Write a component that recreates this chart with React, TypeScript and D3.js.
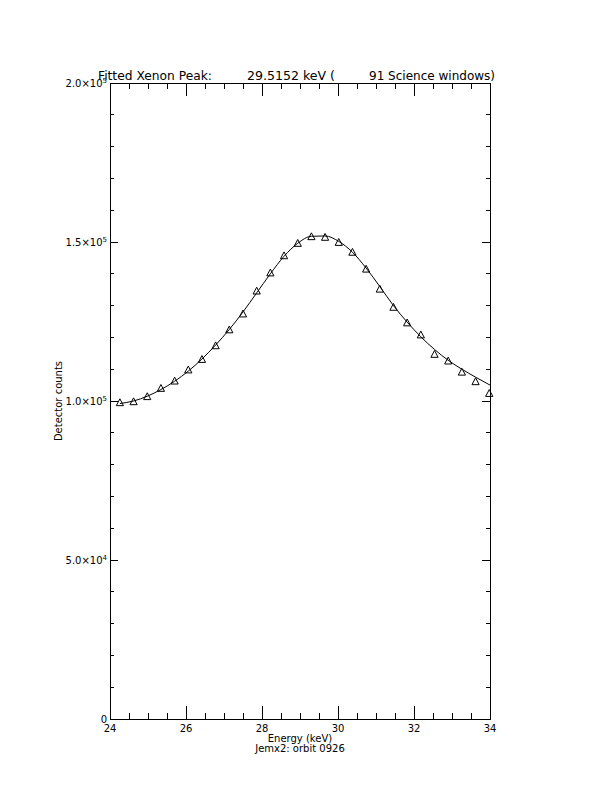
import React from "react";
import * as d3 from "d3";

const energies = [24.26, 24.62, 24.98, 25.34, 25.70, 26.06, 26.42, 26.78, 27.14, 27.50, 27.86, 28.22, 28.58, 28.94, 29.30, 29.66, 30.02, 30.38, 30.74, 31.10, 31.46, 31.82, 32.18, 32.54, 32.90, 33.26, 33.62, 33.98];
const counts = [99500, 99800, 101400, 104000, 106300, 109800, 113100, 117400, 122400, 127400, 134600, 140300, 145700, 149600, 151700, 151500, 149900, 146800, 141500, 135200, 129500, 124600, 120800, 114700, 112600, 109100, 106100, 102400];

const fitEnergies = [24.26, 24.62, 24.98, 25.34, 25.70, 26.06, 26.42, 26.78, 27.14, 27.50, 27.86, 28.22, 28.58, 28.94, 29.30, 29.66, 30.02, 30.38, 30.74, 31.10, 31.46, 31.82, 32.18, 32.54, 32.90, 33.26, 33.62, 34.00];
const fitCounts = [99200, 100000, 101500, 103600, 106200, 109400, 113200, 117600, 122500, 128000, 134000, 140000, 145500, 149600, 151800, 151900, 150200, 146800, 141800, 136000, 130000, 124800, 120200, 116200, 112800, 110000, 107500, 105000];

const xMajorTicks = [24, 26, 28, 30, 32, 34];
const xTickLabels = ["24", "26", "28", "30", "32", "34"];
const yMajorTicks = [0, 50000, 100000, 150000, 200000];
const yTickMantissa = ["0", "5.0", "1.0", "1.5", "2.0"];
const yTickExponent = ["", "4", "5", "5", "5"];

const titleParts = ["Fitted Xenon Peak:", "29.5152 keV (", "91 Science windows)"];
const xTitle = "Energy (keV)";
const subTitle = "Jemx2: orbit 0926";
const yTitle = "Detector counts";

export default function App() {
  const W = 612, H = 792;
  const L = 110, R = 490, T = 83, B = 719;
  const x = d3.scaleLinear().domain([24, 34]).range([L, R]);
  const y = d3.scaleLinear().domain([0, 200000]).range([B, T]);
  const font = "'DejaVu Sans', 'Liberation Sans', sans-serif";

  const xMinor = d3.range(24, 34.001, 0.5).filter(v => !xMajorTicks.some(m => Math.abs(m - v) < 1e-6));
  const yMinor = d3.range(0, 200001, 10000).filter(v => !yMajorTicks.some(m => Math.abs(m - v) < 1e-6));

  const xMajLen = 12.7, xMinLen = 6.4, yMajLen = 7.6, yMinLen = 3.8;

  const line = d3.line<[number, number]>().x(d => x(d[0])).y(d => y(d[1])).curve(d3.curveMonotoneX);
  const fitPath = line(fitEnergies.map((e, i) => [e, fitCounts[i]] as [number, number])) || "";

  const tri = (cx: number, cy: number) => {
    const s = 3.6;
    return `M${cx - s},${cy + s * 0.85}L${cx + s},${cy + s * 0.85}L${cx},${cy - s * 1.05}Z`;
  };

  const titleX = [[98, 114], [247, 88], [369, 126]];

  return (
    <svg width={W} height={H} style={{ position: "absolute", left: 0, top: 0, background: "#fff" }}>
      <rect x={0} y={0} width={W} height={H} fill="#fff" />
      <g fill="#000" fontFamily={font}>
        {titleParts.map((t, i) => (
          <text key={i} x={titleX[i][0]} y={80} fontSize={12.5} textLength={titleX[i][1]} lengthAdjust="spacingAndGlyphs">{t}</text>
        ))}
      </g>
      <g stroke="#000" strokeWidth={1} shapeRendering="crispEdges" fill="none">
        <rect x={L} y={T} width={R - L} height={B - T} />
        {xMajorTicks.map((v, i) => (
          <g key={"xm" + i}>
            <line x1={x(v)} x2={x(v)} y1={B} y2={B - xMajLen} />
            <line x1={x(v)} x2={x(v)} y1={T} y2={T + xMajLen} />
          </g>
        ))}
        {xMinor.map((v, i) => (
          <g key={"xn" + i}>
            <line x1={x(v)} x2={x(v)} y1={B} y2={B - xMinLen} />
            <line x1={x(v)} x2={x(v)} y1={T} y2={T + xMinLen} />
          </g>
        ))}
        {yMajorTicks.map((v, i) => (
          <g key={"ym" + i}>
            <line x1={L} x2={L + yMajLen} y1={y(v)} y2={y(v)} />
            <line x1={R} x2={R - yMajLen} y1={y(v)} y2={y(v)} />
          </g>
        ))}
        {yMinor.map((v, i) => (
          <g key={"yn" + i}>
            <line x1={L} x2={L + yMinLen} y1={y(v)} y2={y(v)} />
            <line x1={R} x2={R - yMinLen} y1={y(v)} y2={y(v)} />
          </g>
        ))}
      </g>
      <path d={fitPath} fill="none" stroke="#000" strokeWidth={1} />
      <g fill="none" stroke="#000" strokeWidth={1}>
        {energies.map((e, i) => (
          <path key={i} d={tri(x(e), y(counts[i]))} />
        ))}
      </g>
      <g fill="#000" fontFamily={font} fontSize={10}>
        {xMajorTicks.map((v, i) => (
          <text key={i} x={x(v)} y={732} textAnchor="middle">{xTickLabels[i]}</text>
        ))}
        {yMajorTicks.map((v, i) => (
          <text key={i} x={L - 3} y={y(v) + 3.5} textAnchor="end">
            {yTickMantissa[i]}
            {yTickExponent[i] ? <>{"×10"}<tspan fontSize={7} dy={-3.5}>{yTickExponent[i]}</tspan></> : null}
          </text>
        ))}
        <text x={300} y={742} textAnchor="middle">{xTitle}</text>
        <text x={300} y={752} textAnchor="middle">{subTitle}</text>
        <text transform={`translate(62,401) rotate(-90)`} textAnchor="middle">{yTitle}</text>
      </g>
    </svg>
  );
}
